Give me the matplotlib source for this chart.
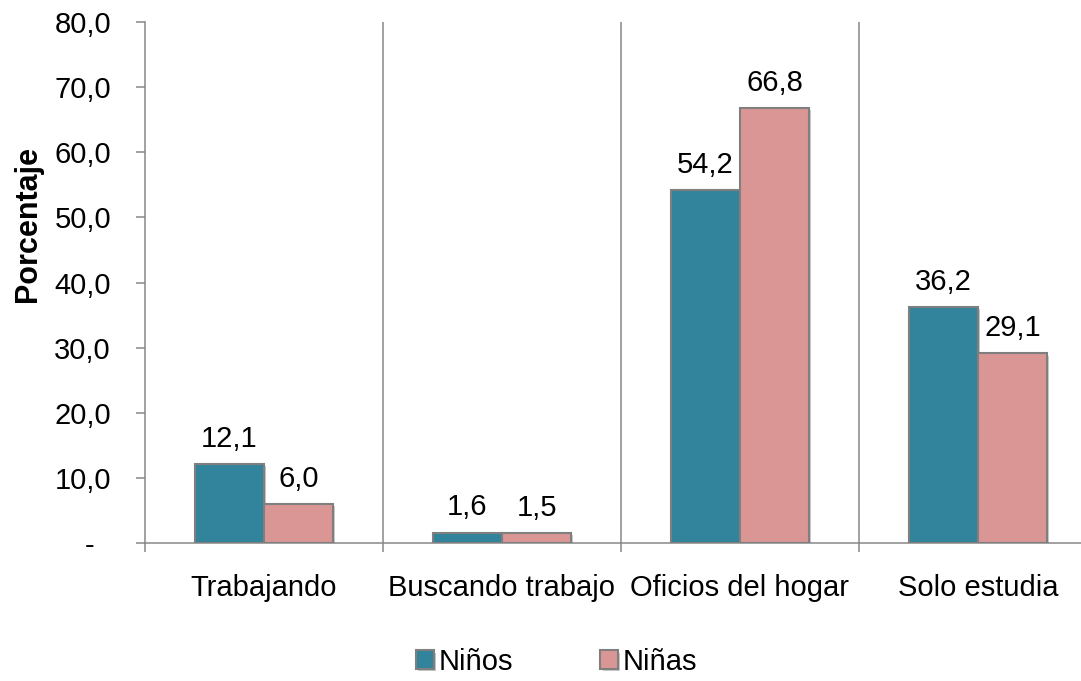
import matplotlib
matplotlib.use("Agg")
import matplotlib.pyplot as plt
import matplotlib.patheffects as pe
import numpy as np

categories = ["Trabajando", "Buscando trabajo", "Oficios del hogar", "Solo estudia"]
ninos = [12.1, 1.6, 54.2, 36.2]
ninas = [6.0, 1.5, 66.8, 29.1]
series_names = ["Niños", "Niñas"]
yticks = [0, 10, 20, 30, 40, 50, 60, 70, 80]

plt.rcParams['font.family'] = ['Liberation Sans', 'DejaVu Sans']

TEAL = "#31849B"
PINK = "#D99694"
EDGE = "#7F7F7F"
GRID = "#878787"
FS = 21

fig = plt.figure(figsize=(10.81, 6.81), dpi=100)
ax = fig.add_axes([145/1081, 138/681, 952/1081, 521/681])

x = np.arange(len(categories))
w = 0.29
shadow = [pe.SimplePatchShadow(offset=(1.5, -1.5), alpha=0.25), pe.Normal()]
b1 = ax.bar(x - w/2, ninos, w, color=TEAL, edgecolor=EDGE, linewidth=1.5,
            label=series_names[0], zorder=3, path_effects=shadow)
b2 = ax.bar(x + w/2, ninas, w, color=PINK, edgecolor=EDGE, linewidth=1.5,
            label=series_names[1], zorder=3, path_effects=shadow)

def fmt(v):
    return f"{v:.1f}".replace(".", ",")

for bars, vals in ((b1, ninos), (b2, ninas)):
    for r, v in zip(bars, vals):
        ax.annotate(fmt(v), (r.get_x() + r.get_width()/2, v), xytext=(0, 8),
                    textcoords="offset points", ha="center", va="bottom",
                    fontsize=FS, color="black", zorder=4)

ax.set_xlim(-0.5, 3.5)
ax.set_ylim(0, 80)
ax.set_yticks(yticks)
ax.set_yticklabels(["-  " if t == 0 else fmt(t) for t in yticks])
ax.set_xticks(x)
ax.set_xticklabels(categories)
ax.set_xticks([-0.5, 0.5, 1.5, 2.5, 3.5], minor=True)

for b in [0.5, 1.5, 2.5]:
    ax.axvline(b, color=GRID, linewidth=1.1, zorder=1)

for s in ["top", "right"]:
    ax.spines[s].set_visible(False)
for s in ["left", "bottom"]:
    ax.spines[s].set_color(GRID)
    ax.spines[s].set_linewidth(1.1)

ax.tick_params(axis="y", length=6.5, width=1.1, color=GRID, pad=18, labelsize=FS)
ax.tick_params(axis="x", which="major", length=0, pad=22, labelsize=FS)
ax.tick_params(axis="x", which="minor", length=6.5, width=1.1, color=GRID)

ax.set_ylabel("Porcentaje", fontsize=22, fontweight="bold")
ax.yaxis.set_label_coords(-0.107, 0.612)

fig.legend(handles=[b1, b2], labels=series_names, loc="center",
           bbox_to_anchor=(0.515, 0.028), ncol=2, frameon=False, fontsize=FS,
           handlelength=0.59, handleheight=0.59, handletextpad=0.17,
           columnspacing=3.0)

fig.savefig("out.png", dpi=100)
